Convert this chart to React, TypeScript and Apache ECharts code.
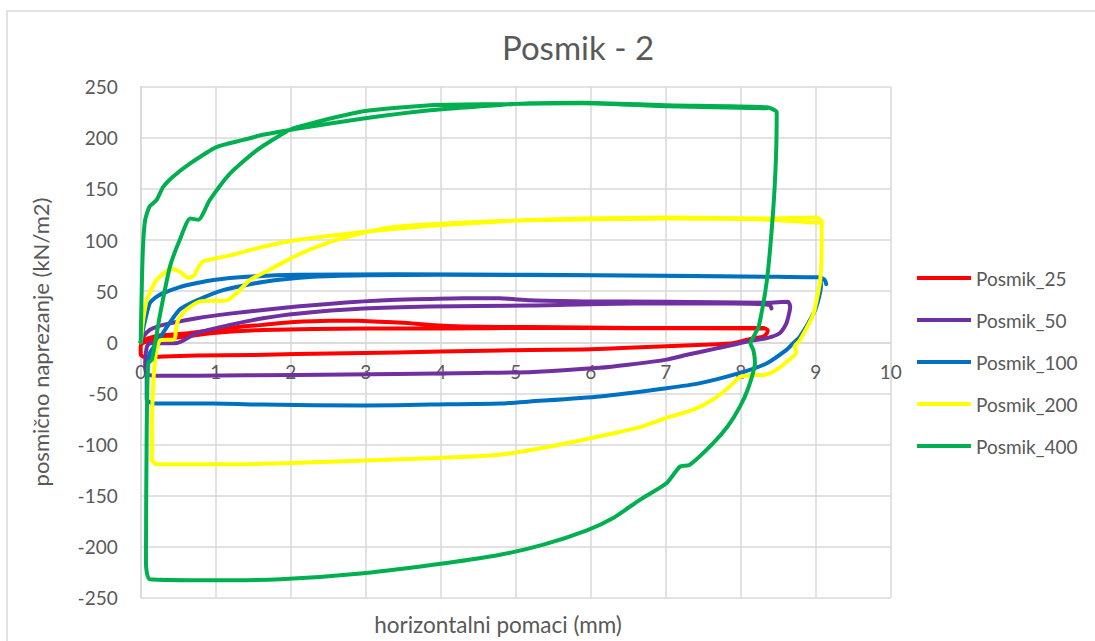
import React, { useEffect, useRef } from "react";
import * as echarts from "echarts";

const seriesNames = ["Posmik_25", "Posmik_50", "Posmik_100", "Posmik_200", "Posmik_400"];
const seriesColors = ["#FF0000", "#7030A0", "#0070C0", "#FFFF00", "#00B050"];
const xTicks = [0, 10, 1];
const yTicks = [-250, 250, 50];

const posmik25 = [
  [0, 0], [0.03, 2], [0.15, 5], [0.3, 7], [0.5, 8], [0.66, 9], [0.97, 12], [1.3, 15], [1.63, 17], [2.0, 19.5],
  [2.52, 21], [2.9, 21], [3.19, 20], [3.5, 19], [3.86, 17], [4.3, 15.5], [4.8, 15], [5.19, 15], [5.9, 14.5],
  [6.57, 14], [7.5, 14], [8.3, 14], [8.36, 12], [8.35, 9], [8.3, 5.5], [8.17, 4], [7.9, -1], [7.5, -2.5],
  [7.01, -4], [6.5, -5.5], [5.9, -7], [5.19, -7.5], [4.79, -8], [4.0, -9], [3.41, -10], [2.52, -11],
  [2.08, -11.5], [1.5, -12.5], [0.75, -13], [0.3, -14], [0.05, -14.5], [0.0, -12], [0.0, -4], [0.02, -1],
  [0.2, 3], [0.52, 5], [0.97, 9], [1.63, 12], [2.97, 13.5], [4.0, 13.5], [5.19, 14], [6.57, 13.7], [8.3, 13.5]
];

const posmik50 = [
  [0, 0], [0.03, 5], [0.12, 12], [0.3, 17], [0.75, 23.5], [1.19, 28], [1.63, 31.5], [2.08, 35], [2.5, 37.5],
  [2.97, 40], [3.41, 41.5], [3.86, 42.4], [4.3, 43], [4.79, 43], [5.19, 41], [5.9, 40], [7.01, 39.7],
  [8.35, 38.7], [8.63, 39.7], [8.66, 35], [8.61, 18.6], [8.52, 8.8], [8.35, 4], [8.17, 2], [7.68, -6],
  [7.3, -12], [7.01, -17], [6.5, -22], [6.12, -25], [5.23, -29], [4.5, -30], [3.41, -31], [2.08, -32],
  [0.75, -32.7], [0.17, -32.7], [0.08, -31], [0.06, -20], [0.08, -5], [0.12, -1], [0.45, -1], [0.55, 1],
  [0.75, 9], [1.19, 17], [1.63, 23.5], [2.08, 28], [2.97, 33], [3.86, 35], [5.19, 36], [6.57, 38],
  [7.9, 38], [8.39, 36.5], [8.41, 33]
];

const posmik100 = [
  [0, 0], [0.03, 12], [0.06, 22], [0.12, 38], [0.2, 44], [0.3, 48], [0.52, 54], [0.75, 58], [0.97, 61],
  [1.41, 64], [2.08, 66], [3.41, 66.5], [5.19, 66], [7.01, 65], [8.5, 64], [9.05, 63.5], [9.07, 55],
  [9.03, 40], [8.97, 28], [8.79, 5.5], [8.7, -1], [8.61, -7.5], [8.35, -20.5], [7.99, -30], [7.46, -40],
  [7.01, -45], [6.12, -53], [5.19, -58], [4.79, -60], [3.86, -61], [2.97, -62], [1.63, -61], [0.97, -60],
  [0.17, -60], [0.08, -56], [0.08, -37], [0.12, -11], [0.21, -1], [0.35, 15], [0.52, 32], [0.75, 41],
  [1.1, 51], [1.63, 59], [2.3, 64], [3.0, 65.5], [4.0, 66], [6.0, 65.5], [8.5, 64], [9.05, 63.5],
  [9.12, 61], [9.14, 57]
];

const posmik200 = [
  [0, 0], [0.03, 20], [0.08, 41], [0.15, 53], [0.21, 61], [0.3, 67], [0.41, 72], [0.52, 69], [0.64, 63],
  [0.72, 66], [0.75, 71], [0.83, 79], [1.0, 82], [1.19, 85], [1.63, 93.5], [2.08, 100], [2.5, 104],
  [2.97, 108], [3.41, 111], [3.86, 114], [4.5, 117], [5.19, 119.7], [5.9, 121], [7.01, 122], [8.35, 121],
  [9.01, 122], [9.08, 118], [9.08, 100], [9.06, 61], [8.97, 28], [8.79, 2], [8.72, -4], [8.74, -10],
  [8.6, -20], [8.43, -29], [8.3, -32], [8.17, -32], [7.99, -34], [7.86, -43], [7.63, -56], [7.37, -66],
  [7.01, -74], [6.66, -83], [6.12, -92], [5.46, -102], [4.79, -110], [3.86, -113.5], [2.52, -117],
  [1.19, -119.5], [0.21, -119.5], [0.15, -115], [0.15, -86], [0.17, -37], [0.21, -7.5], [0.26, 2],
  [0.45, 3], [0.47, 12], [0.5, 22], [0.61, 32], [0.79, 40], [1.15, 41], [1.28, 48], [1.46, 61],
  [1.72, 71], [2.08, 85], [2.52, 98], [2.97, 107], [3.41, 113], [4.0, 116], [5.19, 119.5], [7.0, 121],
  [8.35, 120], [9.05, 117]
];

const posmik400 = [
  [0, 0], [0.01, 40], [0.03, 93], [0.06, 120], [0.12, 133], [0.21, 139], [0.3, 152], [0.43, 162],
  [0.66, 175], [1.01, 191], [1.37, 198], [1.63, 203], [2.08, 209], [2.97, 219], [3.86, 227], [4.75, 232],
  [5.19, 234], [5.9, 234.5], [7.01, 232], [8.35, 230], [8.48, 225], [8.47, 180], [8.43, 126], [8.35, 61],
  [8.24, 15], [8.19, 8], [8.13, -1], [8.17, -8], [8.19, -20], [8.1, -45], [7.99, -63], [7.83, -82],
  [7.63, -99], [7.32, -120], [7.19, -121.7], [7.01, -138], [6.66, -154], [6.3, -172], [5.95, -184],
  [5.37, -198], [4.79, -208], [4.08, -216], [2.97, -226], [1.86, -232], [0.97, -233], [0.12, -232],
  [0.07, -216], [0.08, -86], [0.1, -20.5], [0.15, -17], [0.26, 28], [0.39, 74], [0.52, 100], [0.66, 121],
  [0.77, 120], [0.92, 139], [1.19, 165], [1.55, 188], [1.99, 208], [2.26, 214], [2.97, 226], [3.86, 232],
  [4.79, 233], [5.9, 234], [7.01, 231], [8.35, 229]
];

const seriesData = [posmik25, posmik50, posmik100, posmik200, posmik400];

const FONT = "Lato, 'Open Sans', sans-serif";
const GRID_TOP = 86.8;
const GRID_BOTTOM = 43.3;
const CHART_H = 641;

export default function App() {
  const ref = useRef<HTMLDivElement>(null);
  useEffect(() => {
    document.body.style.margin = "0";
    if (!ref.current) return;
    const chart = echarts.init(ref.current, undefined, { renderer: "svg" });
    const plotH = CHART_H - GRID_TOP - GRID_BOTTOM;
    const zeroOffset = -plotH * (0 - yTicks[0]) / (yTicks[1] - yTicks[0]);
    chart.setOption({
      animation: false,
      backgroundColor: "#ffffff",
      title: {
        text: "Posmik - 2",
        left: 573,
        top: 25,
        textAlign: "center",
        textStyle: { fontFamily: FONT, fontSize: 33, fontWeight: "normal", color: "#595959" },
      },
      legend: {
        orient: "vertical",
        left: 917,
        top: 268,
        padding: 0,
        itemWidth: 54,
        itemHeight: 4,
        itemGap: 22,
        icon: "rect",
        data: seriesNames,
        textStyle: { fontFamily: FONT, fontSize: 19, color: "#595959", lineHeight: 20 },
      },
      grid: { left: 140.7, right: 204.3, top: GRID_TOP, bottom: GRID_BOTTOM, containLabel: false },
      xAxis: {
        type: "value",
        min: xTicks[0],
        max: xTicks[1],
        interval: xTicks[2],
        position: "bottom",
        offset: zeroOffset,
        axisLine: { onZero: false, lineStyle: { color: "#d9d9d9", width: 1.5 } },
        axisTick: { show: false },
        axisLabel: { margin: 20, fontFamily: FONT, fontSize: 19, color: "#595959" },
        splitLine: { show: true, lineStyle: { color: "#d9d9d9", width: 1.5 } },
      },
      yAxis: {
        type: "value",
        min: yTicks[0],
        max: yTicks[1],
        interval: yTicks[2],
        axisLine: { show: true, onZero: false, lineStyle: { color: "#d9d9d9", width: 1.5 } },
        axisTick: { show: false },
        axisLabel: { margin: 23, fontFamily: FONT, fontSize: 19, color: "#595959" },
        splitLine: { show: true, lineStyle: { color: "#d9d9d9", width: 1.5 } },
      },
      graphic: [
        {
          type: "rect",
          shape: { x: 7, y: 11, width: 1200, height: 800 },
          style: { fill: "none", stroke: "#d9d9d9", lineWidth: 1.5 },
          silent: true,
          z: -10,
        },
        {
          type: "text",
          x: 498,
          y: 624,
          style: {
            text: "horizontalni pomaci (mm)",
            fontFamily: FONT,
            fontSize: 22.5,
            fill: "#595959",
            textAlign: "center",
            textVerticalAlign: "middle",
          },
        },
        {
          type: "text",
          x: 40,
          y: 342,
          rotation: Math.PI / 2,
          style: {
            text: "posmično naprezanje (kN/m2)",
            fontFamily: FONT,
            fontSize: 22,
            fill: "#595959",
            textAlign: "center",
            textVerticalAlign: "middle",
          },
        },
      ],
      series: seriesNames.map((name, i) => ({
        name,
        type: "line",
        data: seriesData[i],
        showSymbol: false,
        symbol: "none",
        smooth: 0.2,
        color: seriesColors[i],
        lineStyle: { color: seriesColors[i], width: 4, cap: "round", join: "round" },
        z: 2 + i,
      })),
    });
    return () => chart.dispose();
  }, []);
  return <div ref={ref} style={{ width: 1095, height: 641 }} />;
}
